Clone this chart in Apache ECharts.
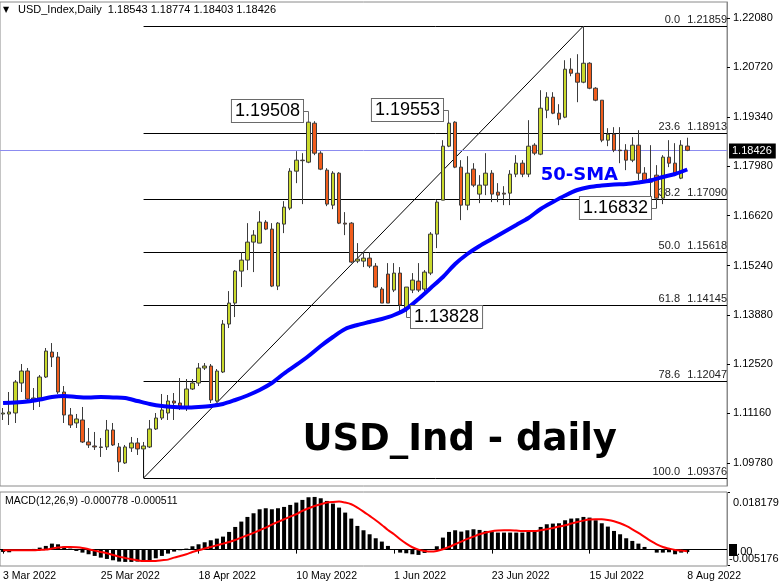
<!DOCTYPE html>
<html>
<head>
<meta charset="utf-8">
<title>USD_Index Daily</title>
<script src="https://cdn.jsdelivr.net/npm/echarts@6.0.0/dist/echarts.min.js"></script>
<style>
html,body{margin:0;padding:0;background:#ffffff;}
#chart{width:782px;height:587px;}
</style>
</head>
<body>
<div id="chart"></div>
<script>
// ---------------- data ----------------
const symbolName = 'USD_Index,Daily';
const firstDate = '2022-03-03';
const barCount = 113;
const emptyBarsRight = 6;
const labelEvery = 16;

const opens = [
1.11143,1.11143,1.11171,1.11999,1.12331,1.11558,1.11585,1.12165,1.12855,1.12717,
1.11751,1.11116,1.10895,1.10978,1.10371,1.10260,1.10233,1.10233,1.10702,1.10233,
1.09791,1.10205,1.10343,1.10178,1.10233,1.10730,1.11033,1.11171,1.11502,1.11447,
1.11309,1.11834,1.11999,1.12413,1.12468,1.11502,1.12303,1.13628,1.14207,1.15090,
1.15394,1.15891,1.15863,1.16443,1.16250,1.14676,1.16388,1.16829,1.17850,1.18154,
1.18099,1.19175,1.18347,1.17878,1.16912,1.17795,1.16415,1.16415,1.15366,1.15366,
1.15449,1.15228,1.14594,1.15008,1.14566,1.15035,1.14069,1.14566,1.14814,1.14594,
1.15035,1.16112,1.17050,1.18540,1.19203,1.17961,1.16912,1.17906,1.17216,1.17464,
1.17795,1.17271,1.17243,1.17243,1.17768,1.18071,1.17768,1.18568,1.18320,1.19534,
1.19893,1.19451,1.19341,1.20666,1.20555,1.20307,1.20831,1.20141,1.19810,1.18706,
1.18872,1.18430,1.18430,1.18154,1.18568,1.17795,1.17630,1.17740,1.17105,1.18237,
1.18071,1.17657,1.18543];
const highs = [
1.11309,1.11751,1.12082,1.12524,1.12414,1.11861,1.12220,1.12966,1.13103,1.12855,
1.11916,1.11309,1.11144,1.11337,1.10757,1.10647,1.10481,1.10978,1.10895,1.10343,
1.10288,1.10509,1.10481,1.10371,1.10978,1.11171,1.11696,1.11668,1.11723,1.12137,
1.12110,1.12110,1.12551,1.12551,1.12524,1.12386,1.13738,1.14538,1.15118,1.15615,
1.16415,1.16222,1.16746,1.16498,1.16415,1.16443,1.17022,1.17933,1.18402,1.18347,
1.19230,1.19230,1.18402,1.17933,1.17850,1.17823,1.16719,1.16443,1.15863,1.15615,
1.15615,1.15311,1.14649,1.15311,1.15311,1.15201,1.14649,1.15035,1.15311,1.15118,
1.16167,1.17050,1.18706,1.19230,1.19230,1.18154,1.18264,1.18071,1.17740,1.18347,
1.17878,1.17519,1.17436,1.17878,1.18292,1.18154,1.19258,1.18623,1.20086,1.20031,
1.20031,1.19699,1.20914,1.20969,1.21080,1.21859,1.20859,1.20169,1.19810,1.19037,
1.19065,1.19065,1.18596,1.18789,1.18982,1.17961,1.18568,1.18016,1.18292,1.18706,
1.18623,1.18706,1.18774];
const lows = [
1.10978,1.10840,1.10895,1.11751,1.11475,1.11254,1.11337,1.12137,1.12441,1.11696,
1.10895,1.10757,1.10757,1.10343,1.10205,1.10150,1.09957,1.10150,1.10260,1.09543,
1.09764,1.10095,1.10012,1.10150,1.10205,1.10702,1.10978,1.10978,1.10978,1.11254,
1.11226,1.11806,1.11916,1.12358,1.11447,1.11475,1.12275,1.13517,1.13821,1.14649,
1.15118,1.15063,1.15863,1.16222,1.14649,1.14566,1.16139,1.16774,1.17519,1.16940,
1.18071,1.18292,1.17878,1.16884,1.16801,1.16388,1.16084,1.15311,1.15311,1.15201,
1.15173,1.14621,1.14207,1.14207,1.14511,1.13959,1.13959,1.14483,1.14511,1.14538,
1.14980,1.15725,1.17050,1.18513,1.17933,1.16498,1.16774,1.17409,1.16967,1.17188,
1.16995,1.16995,1.16912,1.16912,1.17685,1.17685,1.17685,1.18292,1.18292,1.19313,
1.19424,1.19120,1.19313,1.20472,1.19755,1.20279,1.20114,1.19782,1.18651,1.18540,
1.18375,1.18071,1.17878,1.18099,1.17602,1.17547,1.16857,1.16832,1.16940,1.17961,
1.17713,1.17630,1.18403];
const closes = [
1.11171,1.11199,1.12027,1.12331,1.11558,1.11585,1.12165,1.12882,1.12717,1.11751,
1.11116,1.10840,1.11006,1.10371,1.10288,1.10233,1.10219,1.10702,1.10288,1.09819,
1.10233,1.10343,1.10178,1.10260,1.10730,1.11033,1.11254,1.11502,1.11447,1.11364,
1.11834,1.11999,1.12413,1.12468,1.11530,1.12330,1.13628,1.14207,1.15090,1.15394,
1.15891,1.16084,1.16443,1.16250,1.14676,1.16415,1.16857,1.17850,1.18154,1.18140,
1.19203,1.18347,1.17906,1.16940,1.17795,1.16415,1.16388,1.15339,1.15422,1.15449,
1.15228,1.14649,1.14207,1.14207,1.15035,1.14152,1.14649,1.14842,1.14566,1.15063,
1.16112,1.16995,1.18540,1.19175,1.17961,1.16912,1.17795,1.17464,1.17464,1.17795,
1.17216,1.17188,1.17216,1.17768,1.18071,1.17768,1.18540,1.18347,1.19589,1.19893,
1.19451,1.19286,1.20666,1.20555,1.20307,1.20831,1.20141,1.19810,1.18706,1.18872,
1.18430,1.18416,1.18154,1.18568,1.17795,1.17574,1.17547,1.17105,1.18237,1.18071,
1.17795,1.18568,1.18426];

// 50-SMA (bar index, value)
const sma50 = [
[0,1.11447],[2,1.11461],[4,1.11489],[6,1.11544],[8,1.11613],[10,1.11641],[12,1.11613],[14,1.11599],
[16,1.11613],[18,1.11599],[20,1.11585],[22,1.11502],[24,1.11420],[26,1.11364],[28,1.11337],[30,1.11323],
[32,1.11337],[34,1.11364],[36,1.11420],[38,1.11530],[40,1.11655],[42,1.11806],[44,1.11999],[46,1.12262],
[48,1.12497],[50,1.12745],[52,1.13021],[54,1.13270],[56,1.13491],[58,1.13602],[60,1.13685],[62,1.13767],
[64,1.13878],[66,1.14043],[68,1.14319],[70,1.14623],[72,1.14927],[74,1.15286],[76,1.15562],[78,1.15783],
[80,1.15976],[82,1.16170],[84,1.16363],[86,1.16556],[88,1.16805],[90,1.16998],[92,1.17178],[94,1.17330],
[96,1.17413],[98,1.17454],[100,1.17482],[102,1.17495],[104,1.17537],[106,1.17592],[108,1.17689],[110,1.17772],
[112,1.17896]];

const macdHist = [
-0.00074,-0.00084,-0.00021,-0.00011,0.00005,0.00021,0.00063,0.00116,0.00189,0.00168,
0.00095,0.00032,-0.00042,-0.00095,-0.00147,-0.00200,-0.00253,-0.00295,-0.00337,-0.00379,
-0.00389,-0.00389,-0.00379,-0.00368,-0.00337,-0.00274,-0.00200,-0.00126,-0.00063,-0.00021,
0.00032,0.00105,0.00168,0.00231,0.00295,0.00347,0.00410,0.00558,0.00715,0.00884,
0.01031,0.01147,0.01273,0.01305,0.01273,0.01305,0.01347,0.01410,0.01484,0.01568,
0.01652,0.01662,0.01620,0.01536,0.01452,0.01326,0.01168,0.00979,0.00747,0.00610,
0.00484,0.00358,0.00253,0.00116,0.00011,-0.00095,-0.00116,-0.00147,-0.00168,-0.00105,
0.00005,0.00105,0.00379,0.00558,0.00610,0.00568,0.00610,0.00642,0.00621,0.00589,
0.00568,0.00537,0.00537,0.00537,0.00537,0.00537,0.00558,0.00610,0.00715,0.00800,
0.00821,0.00831,0.00926,0.00979,0.00989,0.01031,0.01010,0.00926,0.00831,0.00726,
0.00589,0.00484,0.00358,0.00274,0.00189,0.00084,0.00005,-0.00095,-0.00095,-0.00084,
-0.00147,-0.00095,-0.000778];
const macdSignal = [
-0.00021,-0.00021,-0.00021,-0.00021,-0.00021,-0.00021,-0.00011,0.00000,0.00032,0.00063,
0.00084,0.00084,0.00074,0.00053,0.00011,-0.00032,-0.00074,-0.00116,-0.00168,-0.00221,
-0.00263,-0.00305,-0.00337,-0.00358,-0.00358,-0.00358,-0.00337,-0.00316,-0.00253,-0.00200,
-0.00147,-0.00074,-0.00021,0.00032,0.00084,0.00137,0.00189,0.00242,0.00305,0.00379,
0.00452,0.00526,0.00610,0.00694,0.00789,0.00873,0.00957,0.01042,0.01115,0.01221,
0.01305,0.01378,0.01431,0.01484,0.01505,0.01515,0.01484,0.01431,0.01326,0.01200,
0.01063,0.00926,0.00779,0.00621,0.00484,0.00326,0.00189,0.00074,0.00000,-0.00042,
-0.00063,-0.00042,0.00011,0.00084,0.00168,0.00253,0.00337,0.00410,0.00484,0.00537,
0.00579,0.00600,0.00610,0.00610,0.00600,0.00589,0.00589,0.00589,0.00610,0.00642,
0.00684,0.00726,0.00768,0.00821,0.00873,0.00915,0.00947,0.00957,0.00957,0.00936,
0.00894,0.00831,0.00747,0.00642,0.00526,0.00400,0.00274,0.00168,0.00084,0.00032,
-0.00011,-0.00032,-0.000511];

const priceTicks = [1.22080,1.20720,1.19340,1.17980,1.16620,1.15240,1.13880,1.12520,1.11160,1.09780];
const priceMin = 1.09155, priceMax = 1.22522;
const macdMin = -0.005176, macdMax = 0.018179;

const fibNames  = ['0.0','23.6','38.2','50.0','61.8','78.6','100.0'];
const fibPrices = [1.21859,1.18913,1.17090,1.15618,1.14145,1.12047,1.09376];
const fibLowBar = 23, fibHighBar = 95;

const noteBars   = [50, 73, 66, 107];
const notePrices = [1.19508, 1.19553, 1.13828, 1.16832];
const noteSides  = ['left','left','right','left'];
const noteAtHigh = [true, true, false, false];

const smaLabelText = '50-SMA';
const smaLabelAt = [88, 1.17744];
const titleText = 'USD_Ind - daily';
const titleAt = [49, 1.10426];

// ---------------- layout / style constants ----------------
const GL = 0, GR = 727, MAIN_TOP = 2, MAIN_H = 484, MACD_TOP = 492, MACD_H = 74;
const FONT = 'Liberation Sans, Arial, sans-serif';

function buildCategories(){
  const M=['Jan','Feb','Mar','Apr','May','Jun','Jul','Aug','Sep','Oct','Nov','Dec'];
  const out=[]; const d=new Date(firstDate+'T00:00:00Z');
  while(out.length<barCount){
    const w=d.getUTCDay();
    if(w!==0&&w!==6) out.push(d.getUTCDate()+' '+M[d.getUTCMonth()]+' '+d.getUTCFullYear());
    d.setUTCDate(d.getUTCDate()+1);
  }
  for(let k=0;k<emptyBarsRight;k++) out.push('pad'+k);
  return out;
}
const categories = buildCategories();
const showLabel = (i) => i % labelEvery === 0 && i < barCount;
const last = barCount-1;

const candleData = opens.map((o,i)=>[o, closes[i], lows[i], highs[i]]);

const option = {
  animation:false,
  backgroundColor:'#ffffff',
  grid:[
    {left:GL, top:MAIN_TOP, width:GR-GL, height:MAIN_H, show:true, borderColor:'#8a8a8a', borderWidth:1, outerBoundsMode:'none', containLabel:false},
    {left:GL, top:MACD_TOP, width:GR-GL, height:MACD_H, show:true, borderColor:'#8a8a8a', borderWidth:1, outerBoundsMode:'none', containLabel:false}
  ],
  xAxis:[
    {type:'category', gridIndex:0, data:categories, boundaryGap:true, show:false},
    {type:'category', gridIndex:1, data:categories, boundaryGap:true,
     axisLine:{show:false},
     axisTick:{show:true, alignWithLabel:true, interval:showLabel, length:4, lineStyle:{color:'#000'}},
     axisLabel:{show:true, interval:showLabel, align:'left', fontSize:10.5, color:'#000', fontFamily:FONT, margin:5, hideOverlap:false},
     splitLine:{show:false}}
  ],
  yAxis:[
    {type:'value', gridIndex:0, position:'right', min:priceMin, max:priceMax, scale:true,
     splitLine:{show:false},
     axisLine:{show:true, lineStyle:{color:'#8a8a8a'}},
     axisTick:{show:true, customValues:priceTicks, length:3, lineStyle:{color:'#000'}},
     axisLabel:{show:true, customValues:priceTicks, formatter:(v)=>v.toFixed(5), color:'#000', fontSize:11, fontFamily:FONT, margin:6, hideOverlap:false}},
    {type:'value', gridIndex:1, position:'right', min:macdMin, max:macdMax, scale:true,
     splitLine:{show:false}, axisLine:{show:false}, axisTick:{show:false}, axisLabel:{show:false}}
  ],
  series:[
    {type:'line', name:'fibo', xAxisIndex:0, yAxisIndex:0, z:1, symbol:'none', silent:true,
     data:[[fibLowBar, lows[fibLowBar]],[fibLowBar, fibPrices[6]],[fibHighBar, fibPrices[0]]],
     lineStyle:{color:'#000', width:1}},
    {type:'candlestick', name:'USD_Index', xAxisIndex:0, yAxisIndex:0, z:3, barWidth:4,
     data:candleData,
     itemStyle:{color:'#c9d92c', color0:'#f15d1c', borderColor:'#3c3c3c', borderColor0:'#3c3c3c', borderColorDoji:'#3c3c3c', borderWidth:1}},
    {type:'line', name:'50-SMA', xAxisIndex:0, yAxisIndex:0, z:4, symbol:'none', smooth:0.3, silent:true,
     data:sma50, lineStyle:{color:'#0000ff', width:4}},
    {type:'bar', name:'MACD', xAxisIndex:1, yAxisIndex:1, barWidth:4, silent:true,
     data:macdHist, itemStyle:{color:'#000'},
     markLine:{silent:true, symbol:['none','none'], animation:false, data:[{yAxis:0}], lineStyle:{color:'#000', width:1, type:'solid'}, label:{show:false}}},
    {type:'line', name:'Signal', xAxisIndex:1, yAxisIndex:1, symbol:'none', smooth:0.3, silent:true, z:5,
     data:macdSignal, lineStyle:{color:'#ff0000', width:2}}
  ]
};

const chart = echarts.init(document.getElementById('chart'), null, {renderer:'canvas'});
chart.setOption(option);

// ---------------- annotations through the library's scales ----------------
const P = (i,v) => chart.convertToPixel({gridIndex:0}, [i, v]);
const PM = (i,v) => chart.convertToPixel({gridIndex:1}, [i, v]);
const crisp = (y) => Math.round(y) + 0.5;
const g = [];

// header
g.push({type:'text', z:50, style:{text:'\u25BC', x:3, y:10, fontSize:8, fontFamily:'DejaVu Sans, sans-serif', fill:'#000', verticalAlign:'middle'}});
g.push({type:'text', z:50, style:{text:symbolName+'  '+[opens[last],highs[last],lows[last],closes[last]].map(v=>v.toFixed(5)).join(' '),
  x:18, y:10, fontSize:11, fontFamily:FONT, fill:'#000', verticalAlign:'middle'}});

// current price line + tag
const cp = P(0, closes[last]);
g.push({type:'line', z:2, shape:{x1:GL, y1:crisp(cp[1]), x2:GR, y2:crisp(cp[1])}, style:{stroke:'#8c8cf0', lineWidth:1}});
g.push({type:'text', z:55, style:{text:closes[last].toFixed(5), x:GR+2, y:Math.round(cp[1])+1, verticalAlign:'middle', fontSize:11, lineHeight:13,
  fontFamily:FONT, fill:'#fff', backgroundColor:'#000', padding:[1,4,1,3]}});

// fibonacci levels
fibPrices.forEach((lv, k) => {
  const a = P(fibLowBar, lv);
  const y = crisp(a[1]);
  g.push({type:'line', z:1, shape:{x1:a[0], y1:y, x2:GR, y2:y}, style:{stroke:'#000', lineWidth:1}});
  g.push({type:'text', z:1, style:{text:lv.toFixed(5), x:GR, y:y-7, align:'right', verticalAlign:'middle', fontSize:11, fontFamily:FONT, fill:'#222'}});
  g.push({type:'text', z:1, style:{text:fibNames[k], x:GR-47, y:y-7, align:'right', verticalAlign:'middle', fontSize:11, fontFamily:FONT, fill:'#222'}});
});

// price notes
notePrices.forEach((pr, k) => {
  const b = noteBars[k];
  const tip = noteAtHigh[k] ? highs[b] : lows[b];
  const c = P(b, pr);
  const t = P(b, tip);
  const yc = Math.round(c[1]);
  const bx = Math.round(t[0]);
  if (noteSides[k] === 'left') {
    const right = bx - 6;
    g.push({type:'polyline', z:60, shape:{points:[[right, yc+0.5],[bx-0.5, yc+0.5],[bx-0.5, t[1]]]}, style:{stroke:'#6a6a6a', lineWidth:1, fill:null}});
    g.push({type:'text', z:61, style:{text:pr.toFixed(5), x:right, y:yc, align:'right', verticalAlign:'middle',
      fontSize:18, lineHeight:19, fontFamily:FONT, fill:'#000', backgroundColor:'#fff', borderColor:'#6a6a6a', borderWidth:1, padding:[2,3,1,3]}});
  } else {
    const left = bx + 5;
    g.push({type:'polyline', z:60, shape:{points:[[bx+0.5, t[1]],[bx+0.5, yc+0.5],[left, yc+0.5]]}, style:{stroke:'#6a6a6a', lineWidth:1, fill:null}});
    g.push({type:'text', z:61, style:{text:pr.toFixed(5), x:left, y:yc, align:'left', verticalAlign:'middle',
      fontSize:18, lineHeight:19, fontFamily:FONT, fill:'#000', backgroundColor:'#fff', borderColor:'#6a6a6a', borderWidth:1, padding:[2,3,1,3]}});
  }
});

// 50-SMA tag and title
const sp = P(smaLabelAt[0], smaLabelAt[1]);
g.push({type:'text', z:62, style:{text:smaLabelText, x:sp[0], y:sp[1], verticalAlign:'middle', fontSize:18, fontWeight:'bold', fontFamily:'DejaVu Sans, Verdana, sans-serif', fill:'#0000ff'}});
const tp = P(titleAt[0], titleAt[1]);
g.push({type:'text', z:62, style:{text:titleText, x:tp[0], y:tp[1], verticalAlign:'middle', fontSize:37, fontWeight:'bold', fontFamily:'DejaVu Sans, Verdana, sans-serif', fill:'#000'}});

// MACD panel texts
g.push({type:'text', z:50, style:{text:'MACD(12,26,9) '+macdHist[last].toFixed(6)+' '+macdSignal[last].toFixed(6),
  x:5, y:MACD_TOP+9, fontSize:10.5, fontFamily:FONT, fill:'#000', verticalAlign:'middle'}});
const yTop = PM(0, macdMax)[1], yZero = PM(0, 0)[1], yBot = PM(0, macdMin)[1], yLast = PM(0, macdHist[last])[1];
g.push({type:'line', z:50, shape:{x1:GR, y1:crisp(yTop), x2:GR+3, y2:crisp(yTop)}, style:{stroke:'#000', lineWidth:1}});
g.push({type:'line', z:50, shape:{x1:GR, y1:crisp(yBot)-1, x2:GR+3, y2:crisp(yBot)-1}, style:{stroke:'#000', lineWidth:1}});
g.push({type:'line', z:50, shape:{x1:GR+0.5, y1:MACD_TOP, x2:GR+0.5, y2:MACD_TOP+MACD_H}, style:{stroke:'#8a8a8a', lineWidth:1}});
g.push({type:'text', z:50, style:{text:macdMax.toFixed(6), x:GR+6, y:yTop+11, fontSize:11, fontFamily:FONT, fill:'#000', verticalAlign:'middle'}});
g.push({type:'text', z:50, style:{text:macdMin.toFixed(6), x:GR+2, y:yBot-7, fontSize:11, fontFamily:FONT, fill:'#000', verticalAlign:'middle'}});
g.push({type:'rect', z:51, shape:{x:GR+2, y:Math.round(yLast)-8, width:8, height:12}, style:{fill:'#000'}});
g.push({type:'text', z:52, style:{text:(0).toFixed(2), x:GR+4, y:yZero+2, fontSize:11, fontFamily:FONT, fill:'#000', verticalAlign:'middle'}});

chart.setOption({graphic:g});
</script>
</body>
</html>
